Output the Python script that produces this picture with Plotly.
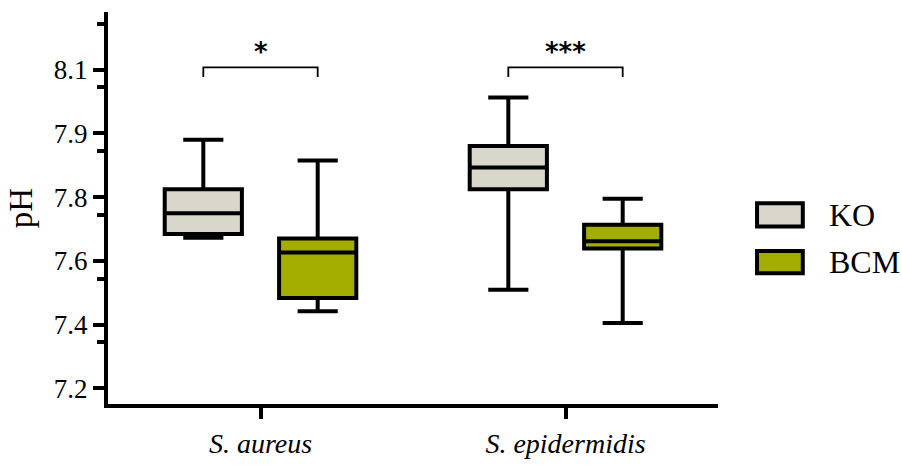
import plotly.graph_objects as go

# Bacterial species on the x axis and the two culture conditions
species = ["S. aureus", "S. epidermidis"]
groups = ["KO", "BCM"]

# Box statistics per condition (one value per species)
ko_lower = [7.637, 7.486]
ko_q1 = [7.648, 7.778]
ko_median = [7.708, 7.841]
ko_q3 = [7.778, 7.903]
ko_upper = [7.921, 8.044]

bcm_lower = [7.424, 7.390]
bcm_q1 = [7.462, 7.606]
bcm_median = [7.594, 7.627]
bcm_q3 = [7.635, 7.675]
bcm_upper = [7.861, 7.750]

# Significance markers between KO and BCM for each species
significance = ["*", "***"]
bracket_top = [8.131, 8.131]
bracket_leg = [8.103, 8.103]
star_level = [8.19, 8.19]

fill_colors = {"KO": "#D9D6CC", "BCM": "#A3AD00"}
serif = "Liberation Serif"

BOXGAP = 0.25
half_offset = (1 - BOXGAP) / 4  # horizontal offset of each box from its category centre

fig = go.Figure()
stats = {
    "KO": (ko_lower, ko_q1, ko_median, ko_q3, ko_upper),
    "BCM": (bcm_lower, bcm_q1, bcm_median, bcm_q3, bcm_upper),
}
for name in groups:
    lo, q1, med, q3, up = stats[name]
    fig.add_trace(go.Box(
        name=name,
        x=species,
        lowerfence=lo, q1=q1, median=med, q3=q3, upperfence=up,
        fillcolor=fill_colors[name],
        line=dict(color="black", width=4),
        whiskerwidth=0.52,
        boxpoints=False,
        hoverinfo="skip",
        showlegend=False,
    ))

# Comparison brackets with significance stars
shapes = []
annotations = []
for i, sig in enumerate(significance):
    x0, x1 = i - half_offset, i + half_offset
    shapes.append(dict(
        type="path", xref="x", yref="y",
        path=f"M {x0},{bracket_leg[i]} L {x0},{bracket_top[i]} L {x1},{bracket_top[i]} L {x1},{bracket_leg[i]}",
        line=dict(color="black", width=1.8),
    ))
    annotations.append(dict(
        x=i, y=star_level[i], xref="x", yref="y", text=sig, showarrow=False,
        font=dict(family="DejaVu Sans", size=26, color="black", weight="bold"),
        yanchor="middle", xanchor="center", yshift=-5,
    ))

# Legend drawn as framed swatches with labels
legend_items = [("KO", 0.512, 0.453), ("BCM", 0.3905, 0.3333)]
for label, ytop, ybot in legend_items:
    shapes.append(dict(
        type="rect", xref="paper", yref="paper",
        x0=1.064, x1=1.139, y0=ybot, y1=ytop,
        fillcolor=fill_colors[label], line=dict(color="black", width=4),
    ))
    annotations.append(dict(
        x=1.178, y=(ytop + ybot) / 2, xref="paper", yref="paper", text=label,
        showarrow=False, xanchor="left", yanchor="middle",
        font=dict(family=serif, size=32, color="black"),
    ))

fig.update_layout(
    width=902, height=471,
    margin=dict(l=108, r=184, t=12, b=57),
    paper_bgcolor="white", plot_bgcolor="white",
    boxmode="group", boxgap=BOXGAP, boxgroupgap=0.325,
    shapes=shapes, annotations=annotations,
    font=dict(family=serif, color="black"),
)
fig.update_xaxes(
    range=[-0.5, 1.5],
    showline=True, linecolor="black", linewidth=4,
    ticks="outside", ticklen=11, tickwidth=3.5, tickcolor="black",
    tickfont=dict(family=serif, size=28, style="italic", color="black"),
    showgrid=False, zeroline=False,
)
fig.update_yaxes(
    range=[7.1547, 8.2919],
    tick0=7.2, dtick=0.185, tickformat=".1f",
    showline=True, linecolor="black", linewidth=4,
    ticks="outside", ticklen=11, tickwidth=3.5, tickcolor="black",
    minor=dict(tick0=7.1485, dtick=0.185, ticks="outside", ticklen=7, tickwidth=3.5, tickcolor="black"),
    tickfont=dict(family=serif, size=27, color="black"),
    title=dict(text="pH", font=dict(family=serif, size=33, color="black"), standoff=12),
    showgrid=False, zeroline=False,
)

fig.write_html("out.html")
